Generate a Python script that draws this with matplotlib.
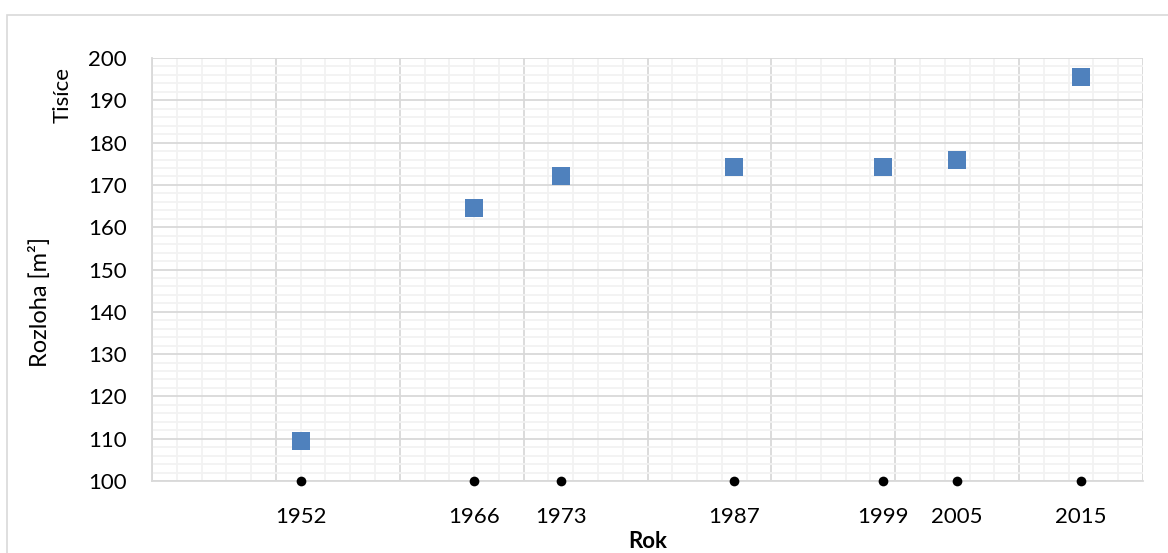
import matplotlib
matplotlib.use("Agg")
import matplotlib.pyplot as plt
from matplotlib.patches import Rectangle
from matplotlib.ticker import MultipleLocator, FuncFormatter

plt.rcParams['font.family'] = ['Lato', 'DejaVu Sans']

years = [1952, 1966, 1973, 1987, 1999, 2005, 2015]
area_thousands = [109.4, 164.6, 172.0, 174.2, 174.2, 176.0, 195.6]
baseline = [100] * len(years)

FS = 16

fig = plt.figure(figsize=(11.68, 5.53), dpi=100)
W, H = 1168, 553
ax = fig.add_axes([152 / W, 1 - 481 / H, (1143 - 152) / W, (481 - 58) / H])

# outer chart frame
fig.patches.append(Rectangle((7 / W, -0.1), 1.2, 1.1 - 15 / H, transform=fig.transFigure,
                             fill=False, edgecolor='#d9d9d9', linewidth=1.2))

ax.set_xlim(1940, 2020)
ax.set_ylim(100, 200)

ax.xaxis.set_major_locator(MultipleLocator(10))
ax.xaxis.set_minor_locator(MultipleLocator(2))
ax.yaxis.set_major_locator(MultipleLocator(10))
ax.yaxis.set_minor_locator(MultipleLocator(2))

ax.grid(which='minor', color='#f2f2f2', linewidth=1.3, zorder=0)
ax.grid(which='major', color='#d9d9d9', linewidth=1.3, zorder=0)
ax.set_axisbelow(True)

for s in ['top', 'right']:
    ax.spines[s].set_visible(False)
for s in ['left', 'bottom']:
    ax.spines[s].set_color('#d9d9d9')
    ax.spines[s].set_linewidth(1.3)

ax.tick_params(which='both', length=0)
ax.tick_params(axis='y', labelsize=FS, pad=18, labelcolor='black')
ax.set_xticklabels([])

# year labels placed under each data point
for yr in years:
    ax.annotate(str(yr), xy=(yr, 100), xycoords='data', xytext=(0, -26),
                textcoords='offset points', ha='center', va='center', fontsize=FS,
                annotation_clip=False)

ax.yaxis.set_major_formatter(FuncFormatter(lambda v, p: f"{int(v)}"))

ax.scatter(years, area_thousands, marker='s', s=13.5 ** 2, color='#4f81bd', zorder=3,
           linewidths=0)
ax.scatter(years, baseline, marker='o', s=7 ** 2, color='black', zorder=4, clip_on=False,
           linewidths=0)

fig.text(40 / W, 1 - 302 / H, 'Rozloha [m²]', rotation=90, ha='center', va='center',
         fontsize=FS + 1)
fig.text(63 / W, 1 - 95 / H, 'Tisíce', rotation=90, ha='center', va='center', fontsize=FS)
fig.text(648 / W, 1 - 541 / H, 'Rok', ha='center', va='center', fontsize=FS,
         fontweight='bold')

fig.savefig('out.png', dpi=100)
